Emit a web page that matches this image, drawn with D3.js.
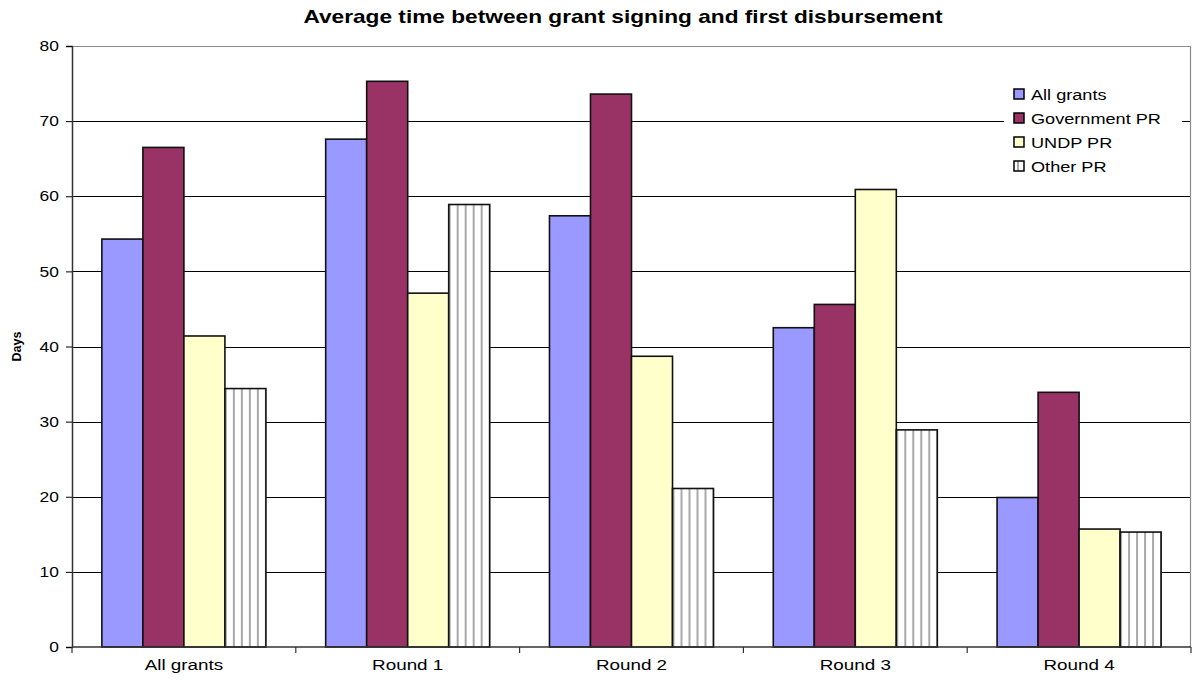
<!DOCTYPE html>
<html>
<head>
<meta charset="utf-8">
<script src="https://cdn.jsdelivr.net/npm/d3@7/dist/d3.min.js"></script>
<style>
  html, body { margin: 0; padding: 0; background: #fff; }
  svg { display: block; font-family: "Liberation Sans", Arial, sans-serif; }
</style>
</head>
<body>
<svg id="chart" width="1194" height="681"></svg>
<script>
// Categories and series
const categories = ["All grants", "Round 1", "Round 2", "Round 3", "Round 4"];
const seriesNames = ["All grants", "Government PR", "UNDP PR", "Other PR"];
const allGrants    = [54.3, 67.6, 57.4, 42.5, 19.9];
const governmentPR = [66.5, 75.3, 73.6, 45.6, 33.9];
const undpPR       = [41.4, 47.1, 38.7, 60.9, 15.7];
const otherPR      = [34.4, 58.9, 21.1, 28.9, 15.3];
const yTicks = [0, 10, 20, 30, 40, 50, 60, 70, 80];

const seriesValues = [allGrants, governmentPR, undpPR, otherPR];
const fills = ["#9999FF", "#993366", "#FFFFCC", "url(#stripes)"];

// the chart's lettering is set wide
const TX = 1.26;

const svg = d3.select("#chart");
const margin = { left: 72, right: 3, top: 46, bottom: 34 };
const W = 1194, H = 681;
const plotL = margin.left, plotR = W - margin.right;
const plotT = margin.top, plotB = H - margin.bottom;

// vertical stripe pattern for the "Other PR" series
const defs = svg.append("defs");
const pat = defs.append("pattern")
  .attr("id", "stripes")
  .attr("patternUnits", "userSpaceOnUse")
  .attr("width", 8).attr("height", 8);
pat.append("rect").attr("width", 8).attr("height", 8).attr("fill", "#fff");
pat.append("rect").attr("x", 3).attr("width", 2).attr("height", 8).attr("fill", "#a8a8a8");

const pad = 0.267;
const x0 = d3.scaleBand().domain(categories).range([plotL, plotR])
  .paddingInner(pad).paddingOuter(pad / 2);
const x1 = d3.scaleBand().domain(seriesNames).range([0, x0.bandwidth()]).padding(0);
const y = d3.scaleLinear().domain([0, 80]).range([plotB, plotT]);

// gridlines
svg.append("g").selectAll("line")
  .data(yTicks.filter(t => t > 0 && t < 80))
  .join("line")
  .attr("x1", plotL).attr("x2", plotR)
  .attr("y1", d => Math.round(y(d)) + 0.5).attr("y2", d => Math.round(y(d)) + 0.5)
  .attr("stroke", "#000").attr("stroke-width", 1);

// plot area border (top and right)
svg.append("path")
  .attr("d", `M${plotL},${Math.round(plotT) + 0.5}H${Math.round(plotR) - 0.5}V${plotB}`)
  .attr("fill", "none").attr("stroke", "#8c8c8c").attr("stroke-width", 1.2);

// legend on a white panel
const legend = svg.append("g").attr("transform", "translate(1004,80)");
legend.append("rect").attr("width", 178).attr("height", 100).attr("fill", "#fff");
seriesNames.forEach((name, i) => {
  const g = legend.append("g").attr("transform", `translate(10,${9 + i * 24})`);
  g.append("rect").attr("width", 10).attr("height", 10)
    .attr("fill", fills[i]).attr("stroke", "#000").attr("stroke-width", 1.5);
  g.append("text").attr("transform", "translate(17,10.5) scale(1.17,1)")
    .attr("font-size", 15.5).attr("fill", "#000").text(name);
});

// bars
const groups = svg.append("g").selectAll("g")
  .data(categories)
  .join("g")
  .attr("transform", d => `translate(${x0(d)},0)`);

groups.selectAll("rect")
  .data((c, ci) => seriesNames.map((s, si) => ({ s, si, v: seriesValues[si][ci] })))
  .join("rect")
  .attr("x", d => x1(d.s))
  .attr("width", x1.bandwidth())
  .attr("y", d => y(d.v))
  .attr("height", d => y(0) - y(d.v))
  .attr("fill", d => fills[d.si])
  .attr("stroke", "#111").attr("stroke-width", 1.6);

// y axis
const yAxis = svg.append("g")
  .attr("transform", `translate(${plotL},0)`)
  .call(d3.axisLeft(y).tickValues(yTicks).tickSize(6).tickPadding(5).tickFormat(d3.format("d")));
yAxis.select(".domain").attr("stroke", "#333").attr("stroke-width", 1.5);
yAxis.selectAll(".tick line").attr("stroke", "#000");
yAxis.selectAll("text").attr("font-size", 14.5).attr("fill", "#000")
  .attr("font-family", "'Liberation Sans', Arial, sans-serif")
  .attr("transform", `scale(${1.2},1)`);

// x axis: labels under categories, ticks on category boundaries
const xAxis = svg.append("g")
  .attr("transform", `translate(0,${plotB})`)
  .call(d3.axisBottom(x0).tickSize(0).tickPadding(13));
xAxis.select(".domain").remove();
xAxis.selectAll("text").attr("font-size", 14.5).attr("fill", "#000")
  .attr("font-family", "'Liberation Sans', Arial, sans-serif")
  .attr("transform", `scale(${1.3},1)`);
const half = (x0.step() - x0.bandwidth()) / 2;
const bounds = categories.map(c => x0(c) - half).concat([x0(categories[categories.length - 1]) + x0.bandwidth() + half]);
svg.append("line")
  .attr("x1", plotL).attr("x2", plotR)
  .attr("y1", plotB).attr("y2", plotB)
  .attr("stroke", "#333").attr("stroke-width", 1.5);
svg.append("g").selectAll("line").data(bounds).join("line")
  .attr("x1", d => d).attr("x2", d => d)
  .attr("y1", plotB).attr("y2", plotB + 6)
  .attr("stroke", "#333").attr("stroke-width", 1.2);

// title
svg.append("text")
  .attr("transform", `translate(623,23) scale(${TX},1)`)
  .attr("text-anchor", "middle")
  .attr("font-size", 18).attr("font-weight", "bold").attr("fill", "#000")
  .text("Average time between grant signing and first disbursement");

// y-axis title
svg.append("text")
  .attr("transform", `translate(21,${(plotT + plotB) / 2}) rotate(-90)`)
  .attr("text-anchor", "middle")
  .attr("font-size", 12.5).attr("font-weight", "bold").attr("fill", "#000")
  .text("Days");
</script>
</body>
</html>
